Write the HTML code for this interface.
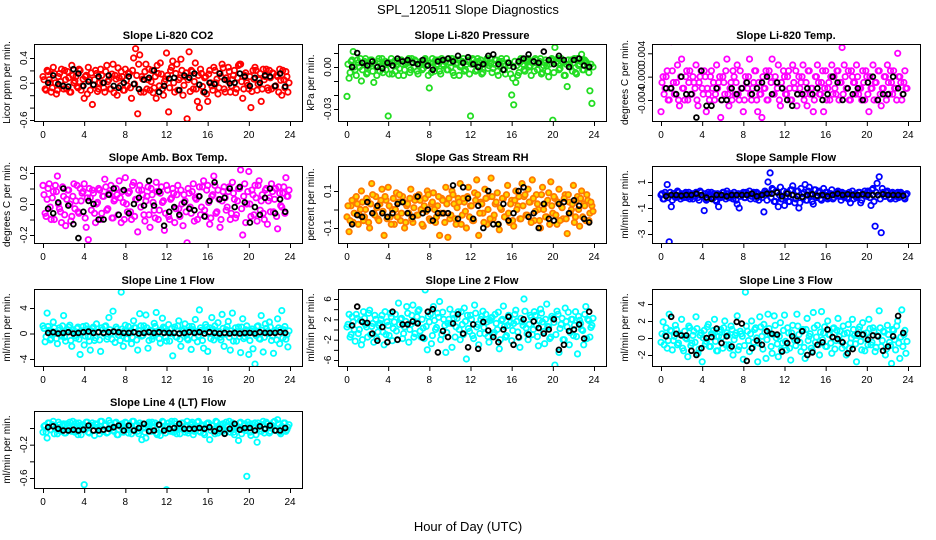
<!DOCTYPE html>
<html><head><meta charset="utf-8"><style>
html,body{margin:0;padding:0;background:#fff;}
svg{display:block;font-family:"Liberation Sans",Arial,sans-serif;}
</style></head><body>
<svg id="fig" width="936" height="540" viewBox="0 0 936 540">
<text x="468" y="14" text-anchor="middle" font-size="13">SPL_120511  Slope Diagnostics</text>
<text x="468" y="531" text-anchor="middle" font-size="13">Hour of Day (UTC)</text>
</svg>
<script>
// ---- data (colored series A at 0.2 h steps, series B offset 0.1 h, black every 0.5 h) ----
const xTicks=[0,4,8,12,16,20,24];
const co2C=[0.1,-0.1,0.2,0.05,-0.15,0.25,0.0,-0.12,0.15,0.22,-0.1,0.05,0.18,-0.15,0.28,0.0,0.1,-0.08,0.2,-0.05,-0.25,0.12,0.25,-0.12,-0.35,0.05,0.15,-0.1,0.22,0.0,-0.15,0.28,0.05,-0.1,0.3,0.12,-0.2,0.08,0.18,-0.12,0.22,-0.05,0.15,-0.25,0.4,0.55,-0.5,0.45,0.1,-0.15,0.3,0.05,-0.12,0.2,-0.08,-0.25,0.15,0.32,-0.1,0.02,0.48,-0.47,0.2,0.35,-0.15,0.3,0.05,0.38,-0.2,0.1,-0.58,0.5,0.2,-0.1,0.32,-0.3,-0.4,0.15,-0.15,0.1,-0.3,0.2,-0.05,0.25,0.0,-0.18,0.15,0.3,-0.1,0.08,0.25,-0.15,0.05,0.2,-0.1,0.28,0.3,-0.25,0.12,0.0,-0.1,-0.4,0.2,0.25,-0.12,0.05,-0.3,0.22,0.1,-0.08,0.2,-0.1,0.15,-0.05,0.1,0.22,-0.2,0.05,0.18,-0.15];
const co2C2=[0.05,-0.12,0.18,0.0,-0.08,0.15,-0.18,0.1,0.02,-0.05,0.2,-0.1,0.08,-0.15,0.12,0.03,-0.06,0.22,-0.12,0.06,0.1,-0.18,0.05,0.16,-0.04,0.2,-0.14,0.0,0.12,-0.08,0.18,0.02,-0.1,0.14,-0.16,0.06,0.24,-0.05,0.1,-0.12,0.04,0.16,-0.08,0.2,-0.02,0.12,0.3,-0.15,0.06,0.18,-0.1,0.22,0.02,-0.16,0.1,0.28,-0.05,0.14,-0.2,0.06,0.12,-0.08,0.25,0.0,0.15,-0.12,0.08,0.2,-0.04,0.16,0.05,-0.14,0.18,0.02,-0.1,0.12,0.22,-0.06,0.08,-0.18,0.14,0.0,-0.12,0.2,0.06,-0.08,0.1,0.24,-0.15,0.04,0.18,-0.05,0.12,-0.16,0.08,0.3,0.02,-0.1,0.16,-0.04,0.1,-0.14,0.06,0.2,-0.02,0.15,-0.1,0.05,0.22,-0.12,0.08,0.16,-0.06,0.12,-0.15,0.04,0.2,-0.08,0.1,0.0];
const co2B=[0.0,0.12,-0.02,-0.05,-0.06,0.22,0.15,-0.05,0.02,-0.03,0.1,0.0,0.12,-0.05,-0.08,0.0,0.1,-0.02,-0.1,0.05,0.08,0.2,-0.15,-0.05,0.07,0.08,-0.12,0.12,0.08,0.15,-0.03,-0.15,0.0,-0.02,0.15,0.05,-0.01,0.0,0.15,0.1,-0.05,0.08,0.0,0.12,0.1,-0.05,0.15,-0.06];
const presC=[-0.021,-0.008,0.004,0.011,-0.002,0.005,0.0,-0.01,0.003,0.006,-0.004,0.002,0.005,-0.011,0.001,0.004,-0.003,0.006,0.002,-0.002,-0.035,0.003,-0.005,0.004,0.001,-0.006,0.005,0.002,-0.002,0.004,0.006,-0.002,0.003,0.005,-0.003,0.002,0.004,-0.001,0.006,0.002,-0.015,-0.004,0.003,0.005,0.002,-0.003,0.006,0.001,0.004,-0.002,0.003,0.006,-0.006,0.002,0.005,0.0,0.004,-0.003,0.002,0.005,-0.035,0.006,0.003,-0.002,0.004,0.005,-0.004,0.002,0.006,0.001,0.003,-0.001,0.005,-0.003,0.004,0.006,0.002,-0.005,0.003,0.001,-0.02,-0.027,-0.011,-0.006,0.003,0.005,-0.002,0.004,0.006,0.001,0.004,-0.003,0.005,0.002,0.006,-0.004,0.003,0.001,-0.007,0.005,-0.038,0.014,0.004,-0.002,0.006,0.003,-0.006,-0.014,0.002,0.005,0.003,-0.004,0.006,0.002,0.009,-0.002,0.004,0.001,-0.017,-0.026];
const presC2=[0.002,-0.004,0.005,0.0,-0.006,0.003,0.006,-0.002,0.004,-0.005,0.001,0.005,-0.003,0.003,-0.006,0.006,0.0,-0.004,0.004,0.002,-0.005,0.006,0.001,-0.003,0.004,-0.001,0.005,-0.006,0.002,0.003,-0.004,0.006,0.0,0.004,-0.005,0.002,-0.002,0.005,0.001,-0.006,0.003,0.006,-0.003,0.001,0.005,-0.005,0.002,0.004,-0.002,0.006,0.0,-0.004,0.005,0.003,-0.006,0.001,0.006,-0.002,0.004,-0.005,0.002,0.005,-0.003,0.006,0.0,-0.005,0.003,0.004,-0.001,0.006,-0.004,0.002,0.005,-0.006,0.001,0.004,-0.002,0.006,0.003,-0.005,-0.008,0.004,0.001,-0.004,0.006,0.002,-0.003,0.005,0.0,-0.006,0.003,0.006,-0.002,0.004,-0.005,0.001,0.005,-0.003,0.002,0.006,-0.004,0.003,0.006,-0.001,0.004,-0.006,0.002,0.005,0.0,-0.003,0.006,-0.005,0.001,0.004,-0.002,0.005,0.003,-0.004,0.002,0.0];
const presB=[0.0,0.010,0.003,0.001,0.004,0.0,-0.001,0.003,0.001,0.006,0.004,0.005,0.003,0.002,0.005,0.001,-0.002,0.004,0.005,0.006,0.004,0.008,0.003,0.007,0.002,0.0,0.002,0.008,0.009,0.002,-0.002,0.003,0.0,0.004,0.006,0.009,0.004,0.003,0.011,0.005,0.002,0.008,0.005,0.0,0.005,0.006,0.001,0.0];
const tempC=[-0.006,0.0,-0.002,0.001,-0.004,0.006,-0.001,-0.003,0.002,-0.005,0.003,-0.002,0.0,-0.004,0.001,-0.003,-0.001,0.002,-0.005,0.0,-0.002,0.001,-0.006,-0.003,0.0,-0.002,-0.004,0.002,-0.001,-0.007,0.0,-0.003,0.003,-0.005,-0.001,0.001,-0.003,0.002,-0.004,-0.002,-0.006,0.0,-0.002,0.003,-0.004,-0.001,0.001,-0.006,-0.003,-0.007,-0.002,0.001,-0.004,0.0,0.003,-0.003,-0.001,0.002,-0.005,-0.002,0.0,-0.003,0.001,-0.004,0.002,-0.002,-0.005,0.0,-0.001,0.002,-0.003,-0.005,0.001,-0.002,-0.006,0.0,0.002,-0.003,-0.001,-0.006,0.001,-0.002,-0.004,0.002,0.0,-0.003,0.001,-0.001,0.005,0.002,-0.002,0.001,-0.004,0.0,-0.001,0.002,-0.003,-0.002,0.001,-0.004,0.0,-0.006,-0.002,0.002,-0.001,-0.004,0.001,-0.005,-0.002,0.0,0.002,-0.003,-0.001,0.001,-0.002,0.004,0.0,-0.004,-0.001,-0.002];
const tempC2=[-0.001,-0.003,0.0,-0.004,-0.002,0.001,-0.003,-0.001,-0.004,0.0,-0.002,-0.004,0.001,-0.001,-0.003,0.0,-0.002,-0.004,-0.001,0.001,-0.003,0.0,-0.002,-0.004,0.001,-0.001,-0.003,-0.002,0.0,-0.004,-0.001,0.001,-0.003,-0.002,-0.004,0.0,-0.001,-0.003,0.001,-0.002,-0.004,-0.001,0.0,-0.003,-0.002,0.001,-0.004,-0.001,-0.003,0.0,-0.002,-0.004,0.001,-0.001,-0.003,0.0,-0.002,-0.004,-0.001,0.001,-0.003,0.0,-0.002,-0.004,-0.001,0.001,-0.003,-0.002,0.0,-0.004,-0.001,0.001,-0.003,-0.002,-0.004,0.0,-0.001,-0.003,0.001,-0.002,-0.004,-0.001,0.0,-0.003,-0.002,0.001,-0.004,-0.001,-0.003,0.0,-0.002,-0.004,0.001,-0.001,-0.003,0.0,-0.002,-0.004,-0.001,0.001,-0.003,0.0,-0.002,-0.004,-0.001,0.001,-0.003,-0.002,0.0,-0.004,-0.001,0.001,-0.003,-0.002,-0.004,0.0,-0.001,-0.003,0.001,-0.002];
const tempB=[-0.002,-0.002,-0.003,0.0,-0.003,-0.003,-0.007,0.001,-0.005,-0.005,-0.002,-0.004,-0.004,-0.002,-0.003,-0.002,-0.001,-0.003,-0.002,-0.001,0.0,-0.003,-0.001,-0.002,-0.004,-0.005,-0.003,-0.003,-0.002,-0.003,-0.002,-0.004,-0.003,0.0,-0.001,-0.004,-0.002,-0.003,-0.002,-0.004,-0.001,0.0,-0.004,-0.003,-0.003,0.0,-0.002,-0.003];
const ambC=[0.12,-0.06,0.03,0.13,-0.1,0.08,0.12,0.18,-0.03,-0.12,0.05,-0.14,0.09,0.0,-0.08,0.13,0.02,-0.05,0.1,0.07,0.13,-0.15,-0.23,0.04,0.09,-0.06,0.0,0.1,-0.1,0.05,0.16,-0.04,0.07,0.12,-0.09,0.03,0.06,0.15,-0.12,0.01,0.17,-0.05,0.08,-0.1,0.14,0.03,-0.18,0.12,0.09,-0.07,0.02,0.11,-0.15,0.06,-0.04,0.14,-0.1,0.07,0.01,-0.17,0.12,-0.08,0.03,0.1,-0.12,0.06,-0.03,0.09,-0.14,0.02,-0.25,0.07,-0.06,0.13,0.04,-0.1,0.11,-0.02,0.15,-0.08,0.12,-0.13,0.05,0.18,-0.06,0.09,-0.15,0.02,0.11,-0.04,0.08,-0.1,0.14,0.03,-0.07,0.1,0.22,-0.2,0.13,0.0,0.21,-0.08,0.06,0.12,-0.11,0.15,0.02,-0.06,0.09,-0.13,0.04,0.13,-0.05,0.1,-0.16,0.07,-0.02,0.11,0.17,0.05];
const ambC2=[0.06,-0.08,0.1,-0.02,0.04,-0.1,0.08,0.0,-0.05,0.11,-0.07,0.03,0.09,-0.11,0.05,-0.03,0.12,-0.06,0.02,0.08,-0.09,0.04,0.1,-0.04,0.07,-0.12,0.01,0.09,-0.06,0.05,0.11,-0.03,0.06,-0.09,0.02,0.1,-0.07,0.04,0.08,-0.1,0.0,0.07,-0.05,0.12,-0.08,0.03,0.09,-0.02,0.06,-0.11,0.05,-0.07,0.1,0.01,-0.09,0.08,-0.04,0.11,0.02,-0.06,0.09,-0.1,0.04,0.07,-0.03,0.12,-0.08,0.0,0.06,-0.05,0.1,-0.02,0.08,-0.11,0.03,0.05,-0.07,0.11,-0.04,0.09,0.01,-0.09,0.06,0.12,-0.05,0.03,-0.1,0.08,0.04,-0.02,0.11,-0.06,0.07,-0.09,0.02,0.1,-0.03,0.05,-0.12,0.08,0.0,0.09,-0.07,0.04,0.12,-0.04,0.06,-0.1,0.1,0.02,-0.05,0.08,0.03,-0.08,0.11,-0.01,0.07,-0.06,0.05,0.09];
const ambB=[-0.03,-0.06,0.01,0.1,-0.01,-0.13,-0.22,-0.05,0.02,0.0,-0.1,-0.1,0.06,0.1,-0.07,0.09,-0.06,0.0,0.04,-0.01,0.15,-0.01,0.08,-0.14,-0.05,-0.02,-0.07,0.01,-0.03,-0.04,0.05,-0.08,0.02,0.14,0.03,0.04,0.1,-0.02,0.11,0.01,-0.12,-0.02,-0.07,0.04,0.1,-0.06,0.03,-0.05];
const rhC=[-0.04,-0.12,0.02,-0.07,0.06,0.03,-0.03,0.1,-0.06,0.0,0.05,-0.1,0.14,-0.02,0.07,-0.05,0.03,0.11,-0.14,0.05,0.12,-0.04,0.0,-0.08,0.09,0.04,-0.06,0.07,-0.1,0.02,-0.02,0.11,-0.07,0.05,-0.03,0.08,0.0,-0.09,0.06,0.1,-0.05,0.03,0.09,-0.07,0.02,-0.14,0.06,-0.02,0.12,-0.15,-0.05,0.1,0.03,-0.08,0.06,0.14,-0.03,0.04,-0.1,0.12,0.02,-0.06,0.09,0.16,-0.14,0.04,-0.02,0.11,-0.08,0.07,0.17,-0.05,0.03,0.09,-0.11,0.0,0.06,-0.04,0.13,-0.07,0.05,-0.09,0.1,0.02,-0.05,0.14,0.07,-0.03,0.11,0.04,0.16,-0.06,0.08,0.0,-0.1,0.12,0.03,-0.04,0.09,0.15,-0.02,0.06,-0.08,0.11,0.02,-0.05,0.08,-0.13,0.04,0.0,0.13,-0.04,0.07,-0.09,0.1,0.03,-0.06,0.05,-0.02,0.02];
const rhC2=[0.02,-0.06,0.05,-0.02,0.07,-0.08,0.0,0.04,-0.04,0.06,-0.07,0.03,0.08,-0.03,0.01,-0.06,0.05,-0.01,0.07,-0.05,0.02,-0.08,0.06,0.0,-0.04,0.08,-0.02,0.04,-0.07,0.03,0.06,-0.05,0.01,0.07,-0.03,0.05,-0.08,0.02,-0.01,0.08,-0.06,0.04,0.0,-0.04,0.07,-0.02,0.05,-0.07,0.03,0.06,-0.03,0.08,-0.05,0.01,0.04,-0.08,0.06,-0.01,0.07,-0.04,0.02,-0.06,0.05,0.08,-0.02,0.03,-0.07,0.06,0.0,-0.05,0.07,-0.03,0.04,-0.08,0.01,0.06,-0.04,0.08,-0.02,0.03,-0.06,0.05,0.0,0.07,-0.05,0.02,0.08,-0.03,0.04,-0.07,0.06,-0.01,0.03,-0.06,0.08,0.0,-0.04,0.05,-0.08,0.02,0.07,-0.03,0.04,-0.06,0.01,0.06,-0.05,0.08,-0.02,0.03,-0.07,0.05,0.0,0.06,-0.04,0.02,0.08,-0.06,0.04,-0.01];
const rhB=[-0.08,-0.03,-0.04,0.04,-0.02,0.02,-0.02,-0.04,-0.02,0.03,0.04,-0.02,-0.04,0.07,-0.02,0.0,-0.06,-0.02,-0.02,-0.02,0.13,-0.05,0.12,0.06,-0.05,0.02,-0.1,0.1,-0.08,-0.08,0.03,-0.06,-0.02,0.1,0.12,-0.04,-0.02,-0.1,0.03,-0.05,-0.06,0.03,0.04,-0.02,0.05,0.02,-0.05,-0.07];
const sfC=[0.0,-0.3,0.2,0.8,-3.6,-0.9,0.1,-0.2,0.3,-0.1,0.1,-0.2,0.2,0.0,-0.3,0.1,-0.1,0.2,-0.2,0.3,-0.1,-1.2,-0.4,0.2,0.0,-0.3,0.1,-0.5,-0.9,-0.2,0.2,-0.1,0.3,-0.2,0.1,-0.3,0.0,-0.7,-1.0,0.1,0.2,-0.2,0.0,0.3,-0.1,0.2,-0.3,0.1,0.0,-0.2,-1.3,0.2,1.0,1.7,0.5,-0.5,0.3,-0.9,0.6,-0.3,-0.8,0.2,-0.5,0.4,0.7,-0.6,0.3,-1.0,0.5,-0.2,0.8,-0.4,0.6,0.1,-0.7,0.4,-0.1,0.3,-0.4,0.5,0.2,-0.3,0.1,0.4,-0.2,0.0,0.3,-0.1,0.2,-0.2,0.1,-0.3,-0.6,0.3,0.0,-0.2,0.2,-0.6,0.1,0.3,-0.1,0.2,-0.8,0.5,-2.4,0.9,1.4,-2.9,0.2,-0.1,0.3,-0.2,0.1,0.0,-0.3,0.2,-0.1,0.1,-0.2,0.0];
const sfC2=[0.1,-0.3,0.0,-0.2,0.2,-0.4,0.1,-0.1,0.2,-0.3,0.0,0.1,-0.2,0.2,-0.1,-0.3,0.1,0.0,-0.4,0.2,-0.1,0.1,-0.3,0.0,0.2,-0.2,-0.4,0.1,0.0,-0.1,0.2,-0.3,0.1,-0.2,0.0,0.2,-0.4,0.1,-0.1,0.0,-0.2,0.2,0.0,-0.3,0.1,-0.1,0.2,-0.4,0.0,0.1,0.3,-0.4,0.1,-0.2,0.4,-0.5,0.2,0.0,-0.3,0.3,-0.1,0.2,-0.5,0.4,0.0,-0.3,0.3,-0.6,0.1,0.2,-0.4,0.3,0.0,-0.5,0.4,-0.2,0.2,-0.3,0.1,0.0,0.2,-0.2,0.1,-0.3,0.0,0.2,-0.1,-0.4,0.1,0.0,-0.2,0.2,0.0,-0.3,0.1,-0.1,0.2,-0.4,0.0,0.1,0.3,-0.2,0.4,-0.5,0.2,0.0,-0.3,0.5,-0.1,0.2,0.0,-0.3,0.2,-0.1,0.1,-0.2,0.2,0.0,-0.3,0.1];
const sfB=[-0.1,0.0,0.0,-0.05,0.0,0.0,0.1,0.0,-0.2,-0.3,0.0,0.0,-0.1,0.0,0.0,0.0,0.0,0.1,-0.1,0.0,0.1,0.1,0.2,-0.1,0.1,0.0,-0.1,-0.15,0.0,0.05,-0.05,0.0,-0.1,0.0,0.1,0.0,0.05,0.0,0.0,0.05,0.0,0.0,0.0,0.05,0.0,0.0,0.0,-0.05];
const l1C=[1.2,-1.3,3.2,0.5,-0.8,1.8,0.2,-1.6,0.9,-0.4,2.8,-1.2,0.6,1.3,-2.0,0.3,-0.7,1.0,-3.3,0.4,-1.8,1.2,-0.5,-2.6,0.8,-1.1,1.5,0.2,-2.8,0.6,1.1,-0.9,2.5,0.0,3.5,-1.4,0.7,-0.3,6.5,-2.0,1.3,-0.8,0.4,-1.6,2.0,0.9,-2.6,3.1,-0.4,1.2,2.9,-2.3,0.5,-0.9,1.6,3.3,0.2,-1.5,2.4,0.8,-1.2,1.4,0.0,-3.5,1.0,-0.6,2.0,-2.0,0.4,1.5,-0.8,1.1,-2.5,0.6,2.2,-1.3,3.7,0.5,-2.3,1.4,-2.8,0.9,2.5,-1.0,0.3,1.7,-0.6,3.0,-2.0,0.6,1.9,-2.6,3.2,0.2,-1.2,1.0,-3.0,2.3,-0.5,1.2,-3.3,0.4,-2.4,-4.8,1.1,-0.8,2.8,-2.9,1.5,0.3,1.8,-1.1,-3.1,0.5,2.3,-1.6,3.6,0.6,-0.9,-2.1];
const l1C2=[0.8,-0.5,1.1,-1.0,0.3,0.9,-0.8,0.5,-0.2,1.2,-0.6,0.2,1.0,-1.1,0.6,-0.3,0.8,-0.9,0.1,1.1,-0.4,0.7,-1.2,0.4,1.0,-0.7,0.2,-1.0,0.9,0.0,1.2,-0.5,0.6,-0.9,0.3,1.0,-0.2,-1.1,0.7,0.4,-0.8,1.1,0.1,-0.6,0.9,-1.0,0.5,1.2,-0.3,0.2,0.9,-1.1,0.4,-0.4,1.1,0.0,-0.8,0.6,1.0,-0.6,0.3,-1.2,0.8,0.1,-0.5,1.2,-0.9,0.4,0.7,-0.2,-1.0,0.6,1.1,-0.7,0.2,-0.3,0.9,-1.1,0.5,1.0,0.0,-0.8,0.7,1.2,-0.4,0.3,-1.0,0.8,-0.1,1.1,-0.6,0.4,-1.2,0.9,0.2,-0.5,1.0,-0.8,0.6,0.1,-1.1,0.7,0.3,-0.3,1.2,-0.9,0.5,-0.6,0.8,0.0,1.0,-0.4,0.2,-1.0,0.9,0.6,-0.7,1.1,-0.2,0.4];
const l1B=[0.1,0.2,0.0,0.1,0.2,0.0,0.1,0.2,0.3,0.1,0.2,0.1,0.2,0.3,0.2,0.1,0.1,0.2,0.0,0.1,0.2,0.1,0.2,0.1,0.1,0.1,0.0,0.1,0.2,0.1,0.2,0.0,0.2,0.1,0.0,0.1,0.0,0.1,0.0,0.1,0.1,0.0,0.2,0.1,0.1,0.1,0.2,0.1];
const l2C=[0.5,3.0,-1.0,1.5,-2.3,2.2,0.0,-3.0,3.5,1.0,-1.5,3.8,0.6,-2.5,2.0,-0.5,1.2,2.8,-3.0,-1.0,0.8,3.2,-2.2,1.5,-0.3,5.2,2.0,-1.8,0.5,4.5,-2.5,1.0,4.8,-0.8,2.5,3.9,-1.5,0.3,7.8,-4.0,1.5,-2.8,4.5,0.0,3.2,5.5,-1.0,2.0,-4.5,1.2,4.0,-3.5,2.2,0.5,3.5,-2.0,1.0,4.2,-5.8,0.2,2.8,-1.2,4.8,0.5,-3.0,2.0,3.6,-0.8,1.5,-2.5,2.2,-1.0,3.0,0.0,-3.8,1.8,4.6,-1.5,0.8,2.5,-2.2,1.2,3.8,-0.5,-3.5,1.5,6.0,0.3,-2.0,2.8,-1.0,3.5,0.8,-3.2,4.0,1.5,-2.8,5.0,0.5,-1.5,2.2,-7.0,3.6,-4.5,1.0,-2.0,4.2,0.5,-3.0,2.0,-1.2,3.5,-4.8,1.8,0.0,-3.0,4.5,2.0,-1.5,0.8];
const l2C2=[1.0,-1.5,2.5,0.0,3.0,-0.8,1.8,-2.0,2.2,0.5,3.2,-1.0,1.2,2.8,-1.8,0.8,2.0,-0.5,3.5,1.5,-1.2,2.5,0.2,3.0,-2.0,1.0,2.2,-0.8,1.6,3.2,0.0,2.8,-1.5,1.4,3.6,-0.3,2.0,-1.8,0.6,2.6,3.0,-1.2,1.8,0.4,2.4,-2.0,3.4,0.8,-0.6,2.0,1.2,3.0,-1.5,2.2,0.0,3.5,-1.0,1.6,2.8,-0.4,2.0,-1.8,3.2,1.0,-0.8,2.6,0.4,3.0,-1.4,1.8,2.4,-0.6,1.2,3.4,-2.0,2.0,0.6,-1.2,2.8,1.4,-0.2,3.0,1.6,-1.6,2.2,0.8,3.6,-0.8,1.0,2.4,0.0,2.8,-1.4,1.8,3.2,-0.4,2.0,0.6,-1.8,2.6,1.4,-1.0,3.0,0.2,2.2,-2.0,1.6,3.4,-0.6,2.0,0.8,-1.4,2.6,1.2,-0.2,3.0,-1.8,1.8,0.4,2.2];
const l2B=[0.8,4.5,1.5,1.3,-0.8,-2.2,0.5,-2.5,3.5,-2.0,1.0,1.0,1.6,1.2,-1.6,3.5,4.0,-4.5,-0.3,-1.5,1.2,3.0,-0.8,-3.5,1.0,-3.8,1.5,-0.2,-1.5,-2.5,0.0,2.5,-3.0,-1.5,2.0,-1.0,1.6,0.3,-0.8,0.0,2.0,-4.0,-3.0,-0.3,0.0,1.0,-1.8,3.5];
const l3C=[-0.5,1.9,0.3,-1.2,2.8,0.8,-0.3,1.5,-0.8,0.5,2.2,-1.5,0.0,-2.2,1.2,-0.6,0.8,2.5,-1.8,0.3,-2.8,0.9,-0.4,1.6,-1.0,0.5,2.2,-1.5,0.2,1.0,-1.2,2.0,0.6,-0.8,1.4,-2.0,0.3,2.6,-1.0,0.5,-2.5,5.4,0.8,-1.6,2.0,-0.5,1.2,-2.8,2.5,0.2,1.6,-2.4,2.8,0.5,-1.8,2.6,0.0,-2.2,1.8,-0.6,2.7,-1.4,0.6,-2.6,1.5,-0.3,2.8,0.4,-1.6,1.0,-2.4,2.3,0.2,-1.2,3.0,-0.5,1.5,-2.0,3.1,0.6,-1.0,2.0,0.4,-1.8,1.2,-0.3,2.3,0.8,-1.2,0.5,-2.0,1.6,-0.6,2.2,0.3,-2.8,1.0,-0.4,1.8,-1.5,0.6,2.2,-0.8,1.2,-1.6,0.3,3.2,-1.0,0.8,-2.0,1.5,-0.5,-3.0,0.9,-1.4,2.0,-2.4,3.3,0.4,-1.8];
const l3C2=[0.5,-0.8,1.2,-0.3,0.9,-1.4,0.2,1.0,-0.6,0.4,-1.2,0.8,-0.1,1.4,-0.9,0.3,-0.5,1.1,-1.3,0.6,0.0,-0.7,1.3,-1.0,0.5,0.9,-0.4,-1.5,0.7,0.1,1.2,-0.8,0.3,-1.2,1.0,-0.2,0.6,-1.4,0.8,0.2,-0.9,1.4,-0.3,0.5,-1.1,1.0,0.0,-0.6,1.3,-1.3,0.7,-0.2,1.1,-1.0,0.4,1.5,-0.7,0.2,-1.4,0.9,-0.4,1.2,-1.2,0.6,0.0,-0.9,1.4,-0.5,0.8,-1.1,1.0,-0.3,0.5,-1.5,1.2,0.1,-0.8,0.7,-0.2,1.3,-1.0,0.4,-0.6,1.1,-1.3,0.9,0.2,-0.4,1.4,-0.9,0.6,-1.2,0.0,1.0,-0.7,0.3,1.3,-1.4,0.5,-0.1,-0.8,1.1,-0.5,0.8,-1.1,0.2,1.2,-0.3,0.7,-1.3,0.4,-0.9,1.0,-0.2,1.4,-0.6,0.1,-1.0,0.9,-0.4];
const l3B=[0.2,2.5,0.5,0.3,0.3,-1.5,-2.0,-1.2,0.0,0.1,1.1,-0.6,0.2,-1.0,1.9,1.7,-2.7,-1.2,-0.3,-0.8,0.8,0.5,0.4,-1.6,-0.6,0.2,-0.3,0.8,-2.0,-1.7,-0.8,-0.5,1.0,0.1,-0.1,-0.5,-1.8,-1.3,0.5,0.4,-0.2,0.3,0.2,-1.5,-1.0,0.2,2.6,0.6];
const l4C=[-0.05,0.03,-0.12,0.06,-0.02,0.08,0.0,-0.07,0.04,-0.03,0.05,-0.06,0.02,0.07,-0.04,0.01,0.06,-0.08,0.03,-0.02,-0.68,0.07,-0.05,0.02,0.06,-0.09,0.04,-0.01,0.08,-0.04,0.03,-0.06,0.09,0.0,-0.03,0.06,-0.08,0.04,0.01,-0.05,0.07,-0.02,0.04,-0.07,0.08,0.02,-0.04,0.06,-0.14,0.0,-0.12,0.05,-0.03,0.07,0.01,-0.06,0.04,-0.09,0.08,-0.02,-0.74,0.06,-0.04,0.02,0.08,-0.07,0.03,-0.01,0.06,-0.05,0.08,-0.03,0.05,-0.08,0.02,0.07,-0.04,0.04,-0.06,0.01,0.06,-0.14,0.03,-0.02,0.08,-0.06,0.04,0.0,-0.03,0.07,0.02,-0.05,0.06,-0.08,0.03,-0.15,0.07,-0.02,0.05,-0.58,0.04,-0.09,0.01,0.06,-0.17,0.03,-0.04,0.08,-0.02,0.05,-0.06,0.03,0.07,-0.03,0.1,-0.05,0.02,0.06,-0.04,0.01];
const l4C2=[0.02,-0.05,0.06,-0.02,0.04,-0.07,0.01,0.07,-0.04,0.03,-0.06,0.05,0.0,-0.03,0.08,-0.05,0.02,0.06,-0.08,0.04,-0.01,0.07,-0.06,0.03,-0.03,0.05,0.01,-0.07,0.08,-0.02,0.04,-0.05,0.06,0.0,-0.04,0.07,-0.08,0.03,0.05,-0.02,0.06,-0.06,0.01,0.08,-0.03,0.04,-0.07,0.02,0.05,-0.05,0.03,0.07,-0.04,0.0,0.06,-0.08,0.04,-0.01,0.07,-0.06,0.02,-0.03,0.08,-0.05,0.05,0.01,-0.07,0.06,-0.02,0.03,-0.06,0.04,0.07,-0.04,0.0,0.08,-0.05,0.02,-0.08,0.05,0.06,-0.03,0.03,-0.07,0.07,0.01,-0.04,0.05,-0.06,0.02,0.08,-0.02,-0.05,0.04,0.0,0.06,-0.07,0.03,-0.03,0.07,-0.05,0.05,0.01,-0.08,0.06,-0.01,0.04,-0.06,0.07,0.02,-0.04,0.03,0.08,-0.03,0.05,-0.07,0.0,0.06,-0.02,0.04];
const l4B=[0.01,0.02,-0.01,-0.03,-0.03,-0.02,-0.03,-0.02,0.03,-0.03,-0.03,-0.02,-0.01,0.01,0.03,-0.03,0.03,-0.03,0.0,0.05,-0.04,-0.03,0.04,-0.03,-0.01,0.0,0.05,-0.01,-0.01,-0.01,0.0,-0.01,0.01,-0.04,-0.01,-0.07,-0.01,0.05,-0.02,0.0,0.0,-0.03,0.02,-0.01,0.03,-0.03,-0.03,0.0];

const NS='http://www.w3.org/2000/svg';
const svg=document.getElementById('fig');
const colLeft=[34,338,652], rowTop=[44,166,289,411], W=268, H=77;
function mk(tag,attrs,parent){const e=document.createElementNS(NS,tag);for(const k in attrs)e.setAttribute(k,attrs[k]);(parent||svg).appendChild(e);return e;}

const panels=[
 {t:'Slope Li-820 CO2',yl:'Licor ppm per min.',c:0,r:0,ref:[0.4,58,-0.6,120],ticks:[0.4,0.2,0,-0.2,-0.4,-0.6],labs:['0.4','0.0','-0.6'],labv:[0.4,0,-0.6],stroke:'#ff0000',fill:'none',C:co2C,C2:co2C2,B:co2B},
 {t:'Slope Li-820 Pressure',yl:'kPa per min.',c:1,r:0,ref:[0,67,-0.03,109],ticks:[0.01,0,-0.01,-0.02,-0.03],labs:['0.00','-0.03'],labv:[0,-0.03],stroke:'#22dd22',fill:'none',C:presC,C2:presC2,B:presB},
 {t:'Slope Li-820 Temp.',yl:'degrees C per min.',c:2,r:0,ref:[0.004,53.3,-0.004,100],ticks:[0.004,0,-0.004],labs:['0.004','0.000','-0.004'],labv:[0.004,0,-0.004],stroke:'#ff00ff',fill:'none',C:tempC,C2:tempC2,B:tempB},
 {t:'Slope Amb. Box Temp.',yl:'degrees C per min.',c:0,r:1,ref:[0.2,173,-0.2,235],ticks:[0.2,0.1,0,-0.1,-0.2],labs:['0.2','0.0','-0.2'],labv:[0.2,0,-0.2],stroke:'#ff00ff',fill:'none',C:ambC,C2:ambC2,B:ambB},
 {t:'Slope Gas Stream RH',yl:'percent per min.',c:1,r:1,ref:[0.1,191,-0.1,228],ticks:[0.1,0,-0.1],labs:['0.1','-0.1'],labv:[0.1,-0.1],stroke:'#ff7a00',fill:'#ffd800',C:rhC,C2:rhC2,B:rhB},
 {t:'Slope Sample Flow',yl:'ml/min per min.',c:2,r:1,ref:[1,182,-3,234],ticks:[1,0,-1,-2,-3],labs:['1','-1','-3'],labv:[1,-1,-3],stroke:'#0000ff',fill:'none',C:sfC,C2:sfC2,B:sfB},
 {t:'Slope Line 1 Flow',yl:'ml/min per min.',c:0,r:2,ref:[4,308,-4,359],ticks:[4,0,-4],labs:['4','0','-4'],labv:[4,0,-4],stroke:'#00ffff',fill:'none',C:l1C,C2:l1C2,B:l1B},
 {t:'Slope Line 2 Flow',yl:'ml/min per min.',c:1,r:2,ref:[6,299,-6,360],ticks:[6,4,2,0,-2,-4,-6],labs:['6','2','-2','-6'],labv:[6,2,-2,-6],stroke:'#00ffff',fill:'none',C:l2C,C2:l2C2,B:l2B},
 {t:'Slope Line 3 Flow',yl:'ml/min per min.',c:2,r:2,ref:[4,304,-2,355],ticks:[4,2,0,-2],labs:['4','2','0','-2'],labv:[4,2,0,-2],stroke:'#00ffff',fill:'none',C:l3C,C2:l3C2,B:l3B},
 {t:'Slope Line 4 (LT) Flow',yl:'ml/min per min.',c:0,r:3,ref:[0,428,-0.6,478],ticks:[0,-0.2,-0.4,-0.6],labs:['-0.2','-0.6'],labv:[-0.2,-0.6],stroke:'#00ffff',fill:'none',C:l4C,C2:l4C2,B:l4B}
];

panels.forEach((p,pi)=>{
  const L=colLeft[p.c], T=rowTop[p.r];
  const xs=h=>L+9+h*247/24;
  const ys=v=>p.ref[1]+(v-p.ref[0])*(p.ref[3]-p.ref[1])/(p.ref[2]-p.ref[0]);
  const g=mk('g',{});
  
  
  const title=mk('text',{x:L+W/2,y:T-5,'text-anchor':'middle','font-size':11,'font-weight':'bold'},g);
  title.textContent=p.t;
  
  
  const yl=mk('text',{x:0,y:0,'text-anchor':'middle','font-size':10,transform:`translate(${L-24},${T+H/2}) rotate(-90)`},g);
  yl.textContent=p.yl;
  
  
  const clip='clip'+pi;
  const cp=mk('clipPath',{id:clip},g); mk('rect',{x:L,y:T,width:W,height:H},cp);
  const pts=mk('g',{'clip-path':`url(#${clip})`},g);
  
  
  p.C.forEach((v,i)=>{
    const c=mk('circle',{cx:xs(i*0.2).toFixed(1),cy:ys(v).toFixed(1),r:2.7,fill:p.fill,stroke:p.stroke,'stroke-width':1.8},pts);
    
    
  });
  p.C2.forEach((v,i)=>{
    const c=mk('circle',{cx:xs(0.1+i*0.2).toFixed(1),cy:ys(v).toFixed(1),r:2.7,fill:p.fill,stroke:p.stroke,'stroke-width':1.8},pts);
    
    
  });
  p.B.forEach((v,i)=>{
    const c=mk('circle',{cx:xs(0.5+i*0.49).toFixed(1),cy:ys(v).toFixed(1),r:2.4,fill:'none',stroke:'#000','stroke-width':1.8},pts);
    
    
  });
  const box=mk('rect',{x:L+0.5,y:T+0.5,width:W,height:H,fill:'none',stroke:'#000','stroke-width':1},g);
  
  
  const xa=mk('g',{},g);
  
  
  mk('line',{x1:xs(0),x2:xs(24),y1:T+H+0.5,y2:T+H+0.5,stroke:'#000'},xa);
  xTicks.forEach(h=>{
    mk('line',{x1:xs(h)+0.5,x2:xs(h)+0.5,y1:T+H,y2:T+H+5,stroke:'#000'},xa);
    const t=mk('text',{x:xs(h),y:T+H+17,'text-anchor':'middle','font-size':10},xa);
    t.textContent=h;
    
    
  });
  const ya=mk('g',{},g);
  
  
  p.ticks.forEach(v=>{mk('line',{x1:L-4,x2:L,y1:ys(v)+0.5,y2:ys(v)+0.5,stroke:'#000'},ya);});
  p.labs.forEach((s,i)=>{
    const t=mk('text',{x:0,y:0,'text-anchor':'middle','font-size':10,transform:`translate(${L-7},${ys(p.labv[i])}) rotate(-90)`},ya);
    t.textContent=s;
    
    
  });
});
</script>
</body></html>
